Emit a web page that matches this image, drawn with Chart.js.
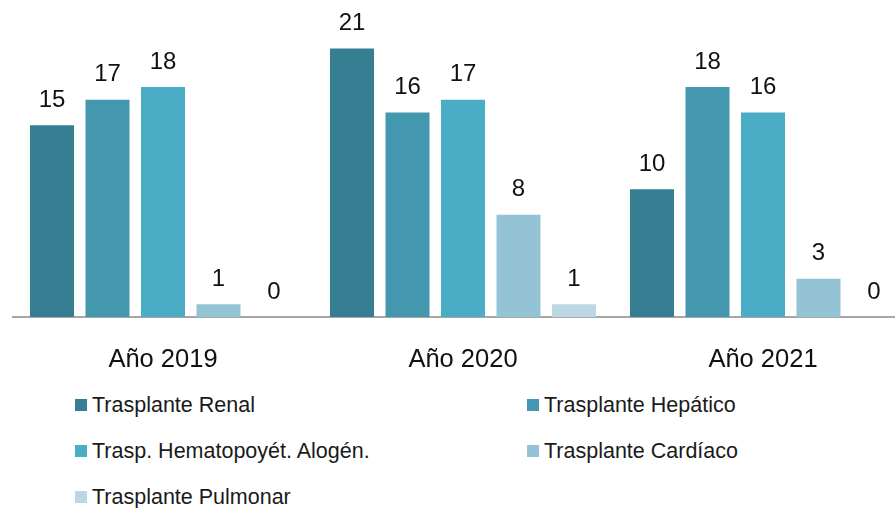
<!DOCTYPE html>
<html>
<head>
<meta charset="utf-8">
<script src="https://cdn.jsdelivr.net/npm/chart.js@4"></script>
<style>
  body { margin: 0; overflow: hidden; background: #fff; font-family: "Liberation Sans", Arial, sans-serif; }
  #wrap { position: relative; width: 895px; height: 508px; overflow: hidden; }
  #grafico { position: absolute; left: 0; top: 0; }
  .leyenda { position: absolute; font-size: 21.5px; color: #1a1a1a; white-space: nowrap; line-height: 24px; }
  .leyenda span.caja { display: inline-block; width: 12px; height: 12px; margin-right: 5px; vertical-align: 1px; }
</style>
</head>
<body>
<div id="wrap">
  <canvas id="grafico" width="913" height="380"></canvas>
  <div id="leyenda"></div>
</div>
<script>
const anios = ['Año 2019', 'Año 2020', 'Año 2021'];
const series = ['Trasplante Renal', 'Trasplante Hepático', 'Trasp. Hematopoyét. Alogén.', 'Trasplante Cardíaco', 'Trasplante Pulmonar'];
const renal = [15, 21, 10];
const hepatico = [17, 16, 18];
const hemato = [18, 17, 16];
const cardiaco = [1, 8, 3];
const pulmonar = [0, 1, 0];
const colores = ['#367f93', '#4397ae', '#4bacc6', '#93c3d5', '#bcd7e4'];

const valores = [renal, hepatico, hemato, cardiaco, pulmonar];

// etiquetas encima de cada barra
const etiquetas = {
    id: 'etiquetas',
    afterDatasetsDraw(chart) {
        const ctx = chart.ctx;
        ctx.save();
        ctx.font = '24px "Liberation Sans", Arial, sans-serif';
        ctx.fillStyle = '#111';
        ctx.textAlign = 'center';
        ctx.textBaseline = 'middle';
        chart.data.datasets.forEach((ds, i) => {
            chart.getDatasetMeta(i).data.forEach((bar, j) => {
                ctx.fillText(ds.data[j], bar.x, bar.y - 25);
            });
        });
        ctx.restore();
    }
};

const grafico = new Chart(document.getElementById('grafico'), {
    type: 'bar',
    data: {
        labels: anios,
        datasets: series.map((nombre, i) => ({
            label: nombre,
            data: valores[i],
            backgroundColor: colores[i],
            categoryPercentage: 0.925,
            barPercentage: 0.793
        }))
    },
    options: {
        responsive: false,
        animation: false,
        layout: { padding: { left: 13, right: 0, top: 0, bottom: 0 } },
        plugins: {
            legend: { display: false },
            tooltip: { enabled: false }
        },
        scales: {
            x: {
                grid: { display: false },
                border: { display: true, color: '#a6a6a6', width: 2 },
                ticks: {
                    color: '#111',
                    padding: 20,
                    font: { family: '"Liberation Sans", Arial, sans-serif', size: 25.5 }
                },
                afterFit: s => { s.height = 63; }
            },
            y: {
                display: false,
                min: 0,
                max: 24.8
            }
        }
    },
    plugins: [etiquetas]
});

// leyenda en dos columnas
const posiciones = [[75, 393], [527, 393], [75, 439], [527, 439], [75, 485]];
const leyenda = document.getElementById('leyenda');
series.forEach((nombre, i) => {
    const d = document.createElement('div');
    d.className = 'leyenda';
    d.style.left = posiciones[i][0] + 'px';
    d.style.top = posiciones[i][1] + 'px';
    d.innerHTML = '<span class="caja" style="background:' + colores[i] + '"></span>' + nombre;
    leyenda.appendChild(d);
});
</script>
</body>
</html>
